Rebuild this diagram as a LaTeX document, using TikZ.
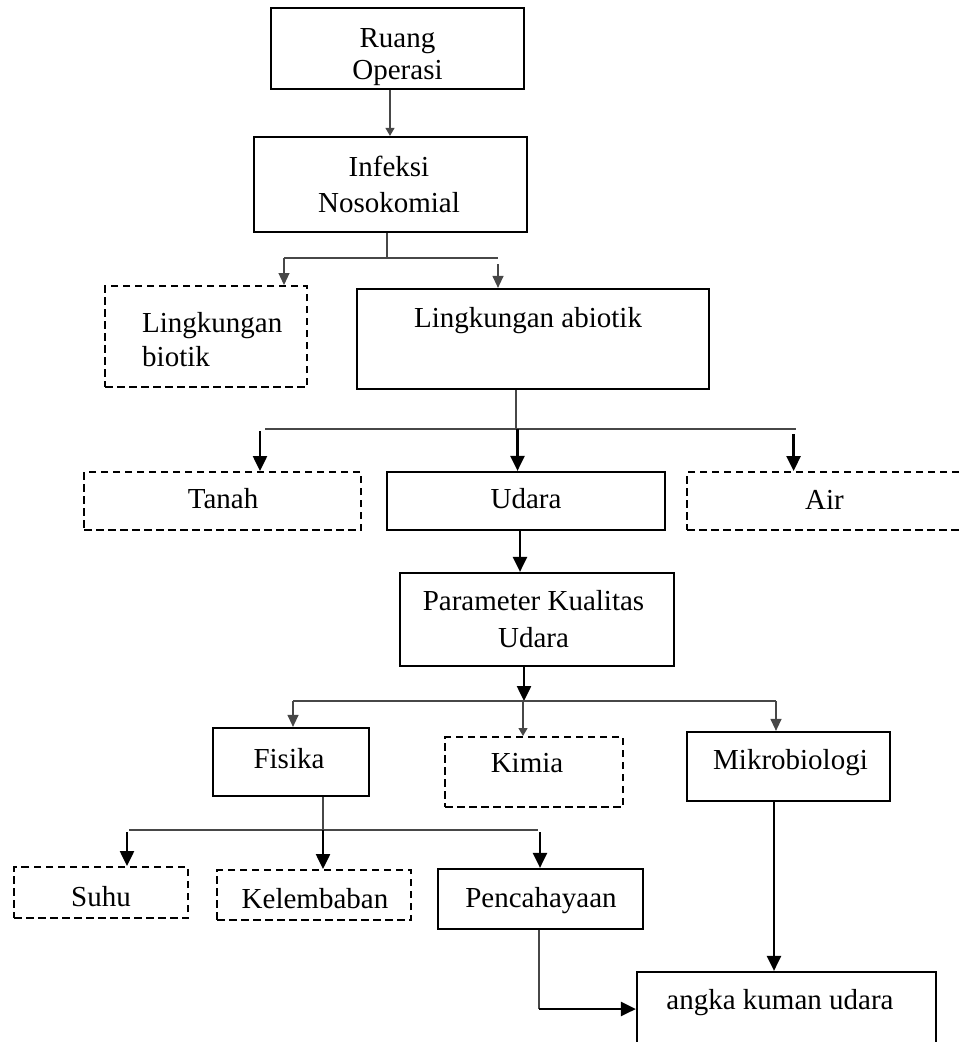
\documentclass[tikz,border=0pt]{standalone}
\usepackage{fontspec}
\setmainfont{Liberation Serif}
\usetikzlibrary{arrows.meta}
\tikzset{
  sbox/.style={draw=black, line width=2.2pt, rectangle, inner sep=0pt},
  dbox/.style={draw=black, line width=2pt, rectangle, inner sep=0pt, dash pattern=on 7.5pt off 4.5pt},
  txt/.style={inner sep=0pt, font=\fontsize{29}{36}\selectfont, anchor=base},
  thin/.style={draw=black!72, line width=1.2pt},
  thick/.style={draw=black, line width=2.5pt},
  bighead/.style={-{Triangle[length=15pt,width=14pt]}},
  midhead/.style={-{Triangle[length=12pt,width=11pt]}},
  smallhead/.style={-{Triangle[length=8pt,width=9pt]}},
}
\begin{document}
\begin{tikzpicture}[x=1pt,y=-1pt]
\path[use as bounding box] (0,0) rectangle (960,1042);
\clip (0,0) rectangle (960,1042);
% boxes
\node[sbox, minimum width=253pt, minimum height=81pt] (ruang) at (397.5,48.5) {};
\node[sbox, minimum width=273pt, minimum height=95pt] (infeksi) at (390.5,184.5) {};
\node[dbox, minimum width=202pt, minimum height=101pt] (biotik) at (206,336.5) {};
\node[sbox, minimum width=352pt, minimum height=100pt] (abiotik) at (533,339) {};
\node[dbox, minimum width=277pt, minimum height=58pt] (tanah) at (222.5,501) {};
\node[sbox, minimum width=278pt, minimum height=58pt] (udara) at (526,501) {};
\node[dbox, minimum width=275pt, minimum height=58pt] (air) at (824.5,501) {};
\node[sbox, minimum width=274pt, minimum height=93pt] (param) at (537,619.5) {};
\node[sbox, minimum width=156pt, minimum height=68pt] (fisika) at (291,762) {};
\node[dbox, minimum width=178pt, minimum height=70pt] (kimia) at (534,772) {};
\node[sbox, minimum width=203pt, minimum height=69pt] (mikro) at (788.5,766.5) {};
\node[dbox, minimum width=174pt, minimum height=51pt] (suhu) at (101,892.5) {};
\node[dbox, minimum width=194pt, minimum height=50pt] (kelembaban) at (314,895) {};
\node[sbox, minimum width=205pt, minimum height=60pt] (cahaya) at (540.5,899) {};
\node[sbox, minimum width=299pt, minimum height=100pt] (angka) at (786.5,1022) {};
% texts
\node[txt] (ruang-t1) at (397.5,47) {Ruang};
\node[txt] (ruang-t2) at (397.5,79) {Operasi};
\node[txt] (infeksi-t1) at (389,176) {Infeksi};
\node[txt] (infeksi-t2) at (389,212) {Nosokomial};
\node[txt, anchor=base west] (biotik-t1) at (142,332) {Lingkungan};
\node[txt, anchor=base west] (biotik-t2) at (142,366) {biotik};
\node[txt] (abiotik-t) at (528,327) {Lingkungan abiotik};
\node[txt] (tanah-t) at (223,508) {Tanah};
\node[txt] (udara-t) at (526,508) {Udara};
\node[txt] (air-t) at (824.5,509) {Air};
\node[txt] (param-t1) at (533.5,610) {Parameter Kualitas};
\node[txt] (param-t2) at (533.5,647) {Udara};
\node[txt] (fisika-t) at (289,768) {Fisika};
\node[txt] (kimia-t) at (527,772) {Kimia};
\node[txt] (mikro-t) at (790.5,769) {Mikrobiologi};
\node[txt] (suhu-t) at (101,906) {Suhu};
\node[txt] (kelembaban-t) at (315,908) {Kelembaban};
\node[txt] (cahaya-t) at (541,907) {Pencahayaan};
\node[txt] (angka-t) at (780,1009) {angka kuman udara};
% junction coordinates
\coordinate (j1) at (387,258);
\coordinate (j1l) at (284,258);
\coordinate (j1r) at (498,258);
\coordinate (j2) at (516,429);
\coordinate (j2l) at (260,429);
\coordinate (j2r) at (796,429);
\coordinate (j3) at (524,701);
\coordinate (j3l) at (293,701);
\coordinate (j3r) at (776,701);
\coordinate (j4) at (323,830);
\coordinate (j4l) at (127,830);
\coordinate (j4r) at (540,830);
\coordinate (bend) at (539,1009);
% connectors
\draw[thin, smallhead] (ruang.south -| 390,0) -- (infeksi.north -| 390,0);
\draw[thin] (infeksi.south -| j1) -- (j1);
\draw[thin] (j1l) -- (j1r);
\draw[thin, midhead] (j1l) -- (biotik.north -| j1l);
\draw[thin, midhead] (498,264) -- (abiotik.north -| j1r);
\draw[thin] (abiotik.south -| j2) -- (j2);
\draw[thin] (265,429) -- (j2r);
\draw[thick, bighead] (260,431) -- (tanah.north -| j2l);
\draw[thick, bighead] (517.5,429) -- (udara.north -| 517.5,0);
\draw[thick, bighead] (793.6,434) -- (air.north -| 793.6,0);
\draw[thick, bighead] (udara.south -| 520,0) -- (param.north -| 520,0);
\draw[thick, bighead] (param.south -| j3) -- (j3);
\draw[thin] (j3l) -- (j3r);
\draw[thin, midhead] (j3l) -- (fisika.north -| j3l);
\draw[thin, smallhead] (523,701) -- (kimia.north -| 523,0);
\draw[thin, midhead] (j3r) -- (mikro.north -| j3r);
\draw[thin] (fisika.south -| j4) -- (j4);
\draw[thin] (129,830) -- (538,830);
\draw[thick, bighead] (127,832) -- (suhu.north -| j4l);
\draw[thick, bighead] (j4) -- (kelembaban.north -| j4);
\draw[thick, bighead] (540,832) -- (cahaya.north -| j4r);
\draw[thick, bighead] (mikro.south -| 774,0) -- (angka.north -| 774,0);
\draw[thin] (cahaya.south -| bend) -- (bend);
\draw[thick, bighead] (bend) -- (angka.west |- bend);
\end{tikzpicture}
\end{document}
